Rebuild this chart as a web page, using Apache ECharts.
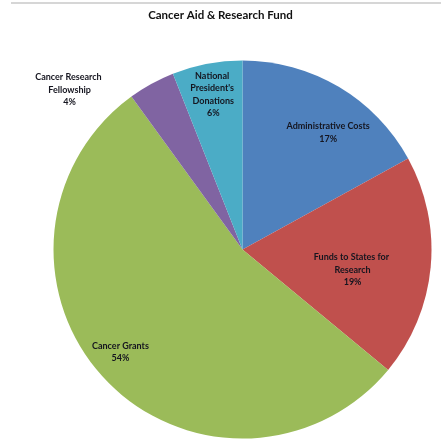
<!DOCTYPE html>
<html>
<head>
<meta charset="utf-8">
<script src="https://cdn.jsdelivr.net/npm/echarts@6/dist/echarts.min.js"></script>
<style>
  html, body { margin: 0; padding: 0; background: #fff; }
  #topline { position: absolute; left: 11px; top: 2px; width: 430px; height: 2px; background: #d6d6d6; }
  #chart { position: absolute; left: 0; top: 0; width: 441px; height: 440px; }
</style>
</head>
<body>
<div id="chart"></div>
<div id="topline"></div>
<script>
const titleText = 'Cancer Aid & Research Fund';
const categories = ['Administrative Costs', 'Funds to States for Research', 'Cancer Grants', 'Cancer Research Fellowship', "National President's Donations"];
const values = [17, 19, 54, 4, 6];
const colors = ['#4F81BD', '#C0504D', '#9BBB59', '#8064A2', '#4BACC6'];

// label styling per slice (offsets/wrap widths only)
const labelStyles = [
  { offset: [36, -33], width: 110 },
  { offset: [13, 11], width: 90 },
  { offset: [-51, 36], width: 95 },
  { offset: [-126, -74], width: 80 },
  { offset: [-11, -59], width: 56 }
];

const chart = echarts.init(document.getElementById('chart'), null, { renderer: 'canvas' });
chart.setOption({
  backgroundColor: '#fff',
  animation: false,
  title: {
    text: titleText,
    left: 'center',
    top: 4,
    textStyle: { fontFamily: 'Lato', fontWeight: 'bold', fontSize: 11.5, color: '#111' }
  },
  series: [{
    type: 'pie',
    center: [242.5, 249.5],
    radius: 189,
    startAngle: 90,
    clockwise: true,
    percentPrecision: 0,
    avoidLabelOverlap: false,
    labelLine: { show: false },
    itemStyle: { borderWidth: 0 },
    label: {
      show: true,
      position: 'inside',
      formatter: '{b}\n{d}%',
      fontFamily: 'Lato',
      fontWeight: 'bold',
      fontSize: 9,
      lineHeight: 12.5,
      color: '#15151f',
      align: 'center',
      overflow: 'break'
    },
    data: categories.map((name, i) => ({
      name: name,
      value: values[i],
      itemStyle: { color: colors[i] },
      label: { offset: labelStyles[i].offset, width: labelStyles[i].width }
    }))
  }]
});
</script>
</body>
</html>
